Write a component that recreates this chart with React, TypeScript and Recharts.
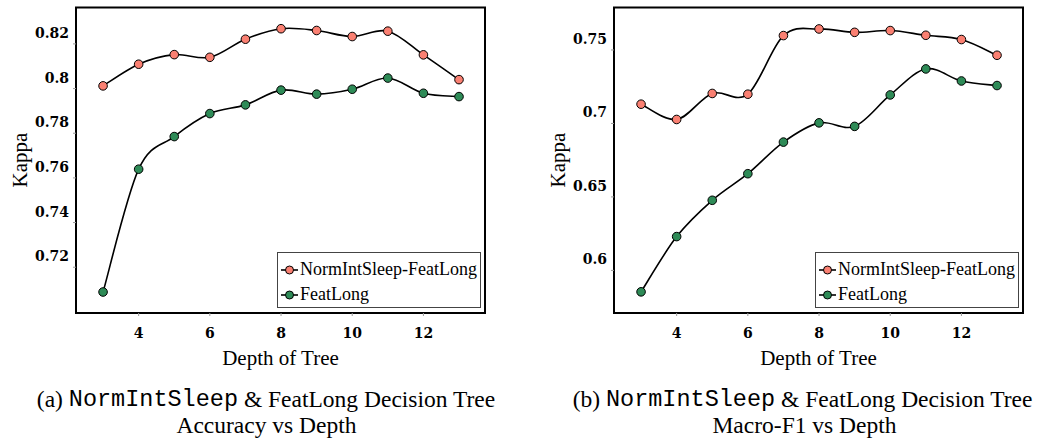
import React from "react";
import { LineChart, Line, XAxis, YAxis, ReferenceArea } from "recharts";

const depths = [3, 4, 5, 6, 7, 8, 9, 10, 11, 12, 13];

const accNormIntSleep = [0.8012, 0.8109, 0.8152, 0.814, 0.8221, 0.8268, 0.826, 0.8233, 0.8257, 0.8151, 0.804];
const accFeatLong = [0.7089, 0.7639, 0.7785, 0.7888, 0.7927, 0.7993, 0.7975, 0.7997, 0.8047, 0.7979, 0.7964];

const f1NormIntSleep = [0.7131, 0.7027, 0.7204, 0.7199, 0.7598, 0.7643, 0.762, 0.7632, 0.76, 0.7571, 0.7464];
const f1FeatLong = [0.5854, 0.623, 0.6477, 0.6658, 0.6873, 0.7004, 0.698, 0.7194, 0.7371, 0.7289, 0.7258];

const xTicks = [4, 6, 8, 10, 12];
const accTicks = [0.72, 0.74, 0.76, 0.78, 0.8, 0.82];
const accTickLabels = ["0.72", "0.74", "0.76", "0.78", "0.8", "0.82"];
const f1Ticks = [0.6, 0.65, 0.7, 0.75];
const f1TickLabels = ["0.6", "0.65", "0.7", "0.75"];

const seriesNames = ["NormIntSleep-FeatLong", "FeatLong"];
const seriesColors = ["#FA8072", "#2E8B57"];

const SERIF = "'Liberation Serif', 'Times New Roman', serif";
const TICK_FONT = "'DejaVu Serif', serif";

// catmull-rom style spline, close to pgfplots "smooth"
const smoothCurve = (k: number) => (context: any) => {
  let pts: number[][] = [];
  return {
    areaStart() {},
    areaEnd() {},
    lineStart() {
      pts = [];
    },
    lineEnd() {
      const n = pts.length;
      if (!n) return;
      context.moveTo(pts[0][0], pts[0][1]);
      for (let i = 0; i < n - 1; i++) {
        const p0 = pts[Math.max(i - 1, 0)];
        const p1 = pts[i];
        const p2 = pts[i + 1];
        const p3 = pts[Math.min(i + 2, n - 1)];
        context.bezierCurveTo(
          p1[0] + (p2[0] - p0[0]) * k,
          p1[1] + (p2[1] - p0[1]) * k,
          p2[0] - (p3[0] - p1[0]) * k,
          p2[1] - (p3[1] - p1[1]) * k,
          p2[0],
          p2[1]
        );
      }
    },
    point(x: number, y: number) {
      pts.push([+x, +y]);
    },
  };
};

const curve = smoothCurve(1 / 6);

type PanelProps = {
  left: number;
  width: number;
  a: number[];
  b: number[];
  yDomain: [number, number];
  yTicks: number[];
  yLabels: string[];
};

const X_DOMAIN: [number, number] = [2.24, 13.73];

function Panel({ left, width, a, b, yDomain, yTicks, yLabels }: PanelProps) {
  const data = depths.map((d, i) => ({ depth: d, a: a[i], b: b[i] }));

  const YTick = ({ x, y, payload }: any) => {
    const idx = yTicks.indexOf(payload.value);
    return (
      <text x={x - 2} y={y - 11} textAnchor="end" dominantBaseline="central"
        fontFamily={TICK_FONT} fontWeight="bold" fontSize={14} fill="#000">
        {yLabels[idx] ?? payload.value}
      </text>
    );
  };

  const XTick = ({ x, y, payload }: any) => (
    <text x={x} y={y + 15} textAnchor="middle" dominantBaseline="central"
      fontFamily={TICK_FONT} fontWeight="bold" fontSize={14} fill="#000">
      {payload.value}
    </text>
  );

  const dot = (i: number) => ({ r: 4.3, fill: seriesColors[i], stroke: "#000", strokeWidth: 1 });

  return (
    <div style={{ position: "absolute", left, top: 0 }}>
      <LineChart width={width} height={350} data={data}
        margin={{ top: 7.5, right: width - 76 - 409, left: 16, bottom: 7 }}>
        <XAxis dataKey="depth" type="number" domain={X_DOMAIN} ticks={xTicks}
          allowDataOverflow axisLine={false} tickSize={3} height={30}
          tickLine={{ stroke: "#999", strokeWidth: 1 }} tick={<XTick />} />
        <YAxis type="number" domain={yDomain} ticks={yTicks} allowDataOverflow
          axisLine={false} tickSize={3} width={60}
          tickLine={{ stroke: "#999", strokeWidth: 1 }} tick={<YTick />} />
        <ReferenceArea x1={X_DOMAIN[0]} x2={X_DOMAIN[1]} y1={yDomain[0]} y2={yDomain[1]}
          fill="none" stroke="#000" strokeWidth={2} ifOverflow="visible" />
        <Line dataKey="a" type={curve as any} stroke="#000" strokeWidth={1.6}
          dot={dot(0)} activeDot={false} isAnimationActive={false} />
        <Line dataKey="b" type={curve as any} stroke="#000" strokeWidth={1.6}
          dot={dot(1)} activeDot={false} isAnimationActive={false} />
      </LineChart>
      <div style={{
        position: "absolute", left: 277, top: 252, width: 202, height: 54,
        border: "1.5px solid #444", background: "#fff", fontFamily: SERIF, fontSize: 18,
      }}>
        {seriesNames.map((name, i) => (
          <div key={name} style={{ position: "absolute", left: 2, top: 4 + i * 25, height: 25,
            display: "flex", alignItems: "center", whiteSpace: "nowrap" }}>
            <svg width={19} height={12}>
              <line x1={1} y1={6} x2={18} y2={6} stroke="#000" strokeWidth={1.6} />
              <circle cx={9.5} cy={6} r={4} fill={seriesColors[i]} stroke="#000" strokeWidth={1} />
            </svg>
            <span style={{ marginLeft: 1 }}>{name}</span>
          </div>
        ))}
      </div>
    </div>
  );
}

export default function App() {
  return (
    <div style={{ position: "absolute", left: 0, top: 0, width: 1044, height: 439, background: "#fff", fontFamily: SERIF }}>
      <Panel left={0} width={520} a={accNormIntSleep} b={accFeatLong}
        yDomain={[0.6995, 0.8363]} yTicks={accTicks} yLabels={accTickLabels} />
      <Panel left={538} width={506} a={f1NormIntSleep} b={f1FeatLong}
        yDomain={[0.571, 0.7789]} yTicks={f1Ticks} yLabels={f1TickLabels} />
      <svg width={1044} height={439} style={{ position: "absolute", left: 0, top: 0, pointerEvents: "none" }}>
        <g fontFamily={SERIF} fill="#000">
          <text x={20} y={160} transform="rotate(-90 20 160)" textAnchor="middle" dominantBaseline="central" fontSize={21}>Kappa</text>
          <text x={558} y={160} transform="rotate(-90 558 160)" textAnchor="middle" dominantBaseline="central" fontSize={21}>Kappa</text>
          <text x={280.5} y={358} textAnchor="middle" dominantBaseline="central" fontSize={21}>Depth of Tree</text>
          <text x={818.5} y={358} textAnchor="middle" dominantBaseline="central" fontSize={21}>Depth of Tree</text>
          <text x={266} y={399} textAnchor="middle" dominantBaseline="central" fontSize={23.5}>
            <tspan>{"(a) "}</tspan>
            <tspan fontFamily="'Liberation Mono', monospace">NormIntSleep</tspan>
            <tspan>{" & FeatLong Decision Tree"}</tspan>
          </text>
          <text x={266.5} y={425} textAnchor="middle" dominantBaseline="central" fontSize={23.5}>Accuracy vs Depth</text>
          <text x={802.5} y={399} textAnchor="middle" dominantBaseline="central" fontSize={23.5}>
            <tspan>{"(b) "}</tspan>
            <tspan fontFamily="'Liberation Mono', monospace">NormIntSleep</tspan>
            <tspan>{" & FeatLong Decision Tree"}</tspan>
          </text>
          <text x={804.5} y={425} textAnchor="middle" dominantBaseline="central" fontSize={23.5}>Macro-F1 vs Depth</text>
        </g>
      </svg>
    </div>
  );
}
